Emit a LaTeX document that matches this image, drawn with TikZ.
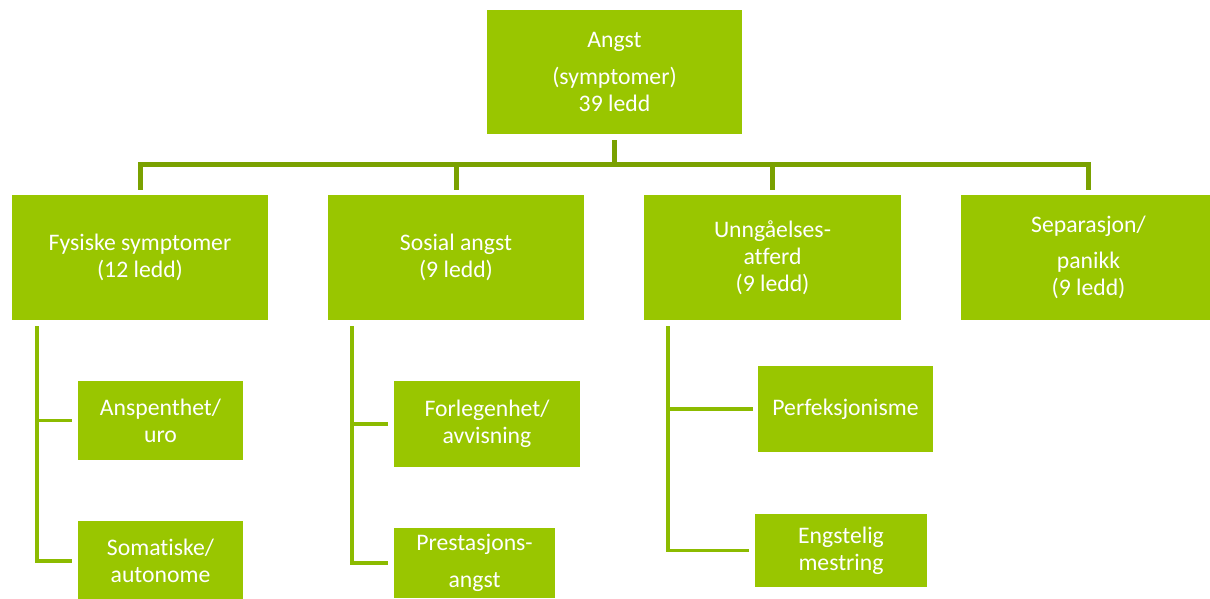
\documentclass[tikz,border=0pt]{standalone}
\usepackage{fontspec}
\setmainfont[Ligatures=NoCommon]{Carlito}
\definecolor{boxgreen}{HTML}{99C600}
\definecolor{maingreen}{HTML}{7AA100}
\definecolor{subgreen}{HTML}{8CBB00}
\begin{document}
\begin{tikzpicture}[x=1pt,y=-1pt,
  box/.style={fill=boxgreen, text=white, align=center, inner sep=0pt,
    font=\fontsize{23.7}{27}\selectfont, anchor=center},
  mainline/.style={draw=maingreen, line width=5pt, line join=miter},
  subline/.style={draw=subgreen, line width=3.6pt, line join=miter}]
\useasboundingbox (0,0) rectangle (1210,598);
\fill[white] (0,0) rectangle (1210,598);
% top
\node[box, minimum width=255pt, minimum height=124pt] (top) at (614.5,72) {Angst\\[10pt](symptomer)\\39 ledd};
% level 2
\node[box, minimum width=256pt, minimum height=125pt] (b1) at (140,257.5) {Fysiske symptomer\\(12 ledd)};
\node[box, minimum width=256pt, minimum height=125pt] (b2) at (456,257.5) {Sosial angst\\(9 ledd)};
\node[box, minimum width=257pt, minimum height=125pt] (b3) at (772.5,257.5) {Unngåelses-\\atferd\\(9 ledd)};
\node[box, minimum width=255pt, minimum height=125pt] (b4) at (1088.5,257.5) {Separasjon/\\[9pt]panikk\\(9 ledd)};
% level 3
\node[box, minimum width=165pt, minimum height=79pt] (c11) at (160.5,420.5) {Anspenthet/\\uro};
\node[box, minimum width=165pt, minimum height=80pt] (c12) at (160.5,561) {Somatiske/\\autonome};
\node[box, minimum width=186pt, minimum height=86pt] (c21) at (487,424) {Forlegenhet/\\avvisning};
\node[box, minimum width=161pt, minimum height=70pt] (c22) at (474.5,563) {Prestasjons-\\[10pt]angst};
\node[box, minimum width=175pt, minimum height=86pt] (c31) at (845.5,409) {Perfeksjonisme};
\node[box, minimum width=172pt, minimum height=73pt] (c32) at (841,550.5) {Engstelig\\mestring};
% main connectors
\coordinate (bus) at (614.5,164.5);
\draw[mainline] ([yshift=-6pt]top.south) -- (bus);
\draw[mainline] ([yshift=5pt]b1.north) -- (b1.north |- bus) -- (b4.north |- bus) -- ([yshift=5pt]b4.north);
\draw[mainline] (b2.north |- bus) -- ([yshift=5pt]b2.north);
\draw[mainline] (b3.north |- bus) -- ([yshift=5pt]b3.north);
% sub connectors
\coordinate (v1) at ([xshift=25pt,yshift=-6pt]b1.south west);
\draw[subline] (v1) |- ([xshift=-6pt]c12.west);
\draw[subline] (v1 |- c11.west) -- ([xshift=-6pt]c11.west);
\coordinate (v2) at ([xshift=24pt,yshift=-6pt]b2.south west);
\draw[subline] (v2) |- ([xshift=-6pt]c22.west);
\draw[subline] (v2 |- c21.west) -- ([xshift=-6pt]c21.west);
\coordinate (v3) at ([xshift=24pt,yshift=-6pt]b3.south west);
\draw[subline] (v3) |- ([xshift=-6pt]c32.west);
\draw[subline] (v3 |- c31.west) -- ([xshift=-5pt]c31.west);
\end{tikzpicture}
\end{document}
